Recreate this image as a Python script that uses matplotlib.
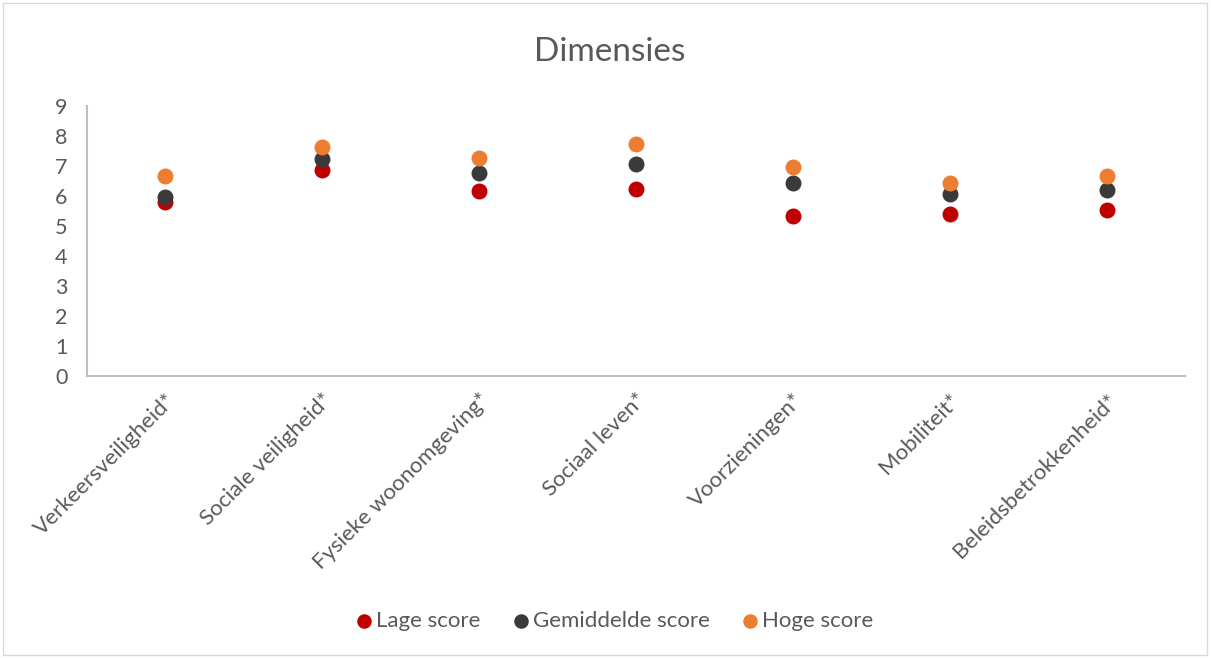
import matplotlib.pyplot as plt
from matplotlib.patches import Rectangle

plt.rcParams['font.family'] = ['Lato', 'DejaVu Sans']

categories = ['Verkeersveiligheid*', 'Sociale veiligheid*', 'Fysieke woonomgeving*',
              'Sociaal leven*', 'Voorzieningen*', 'Mobiliteit*', 'Beleidsbetrokkenheid*']
lage = [5.8, 6.87, 6.16, 6.25, 5.35, 5.39, 5.52]
gemiddeld = [5.96, 7.22, 6.76, 7.06, 6.42, 6.07, 6.21]
hoge = [6.67, 7.65, 7.26, 7.74, 6.97, 6.43, 6.67]

grey = '#595959'
W, H = 1211, 660
fig = plt.figure(figsize=(W / 100, H / 100), dpi=100)
ax = fig.add_axes([87 / W, 1 - 376 / H, (1185 - 87) / W, (376 - 106) / H])

x = range(len(categories))
ax.scatter(x, lage, s=110, color='#C00000', label='Lage score', zorder=3)
ax.scatter(x, gemiddeld, s=110, color='#3A3A3A', label='Gemiddelde score', zorder=3)
ax.scatter(x, hoge, s=110, color='#ED7D31', label='Hoge score', zorder=3)

ax.set_xlim(-0.5, len(categories) - 0.5)
ax.set_ylim(0, 9)
ax.set_yticks(range(10))
ax.set_xticks(list(x))
ax.set_xticklabels(categories, rotation=45, ha='right', rotation_mode='anchor')
ax.tick_params(length=0, labelcolor=grey)
ax.tick_params(axis='y', pad=14, labelsize=15.5)
ax.tick_params(axis='x', pad=10, labelsize=16)
for s in ['top', 'right']:
    ax.spines[s].set_visible(False)
for s in ['left', 'bottom']:
    ax.spines[s].set_color('#BFBFBF')
    ax.spines[s].set_linewidth(1.5)

fig.text(610 / W, 1 - 52 / H, 'Dimensies', ha='center', va='center',
         fontsize=24, color=grey)

fig.legend(loc='center', bbox_to_anchor=(613 / W, 1 - 621 / H), ncol=3,
           frameon=False, fontsize=16, labelcolor=grey, handletextpad=0.05,
           handlelength=1.0, columnspacing=1.3, scatterpoints=1, markerscale=0.9)

fig.patches.append(Rectangle((3 / W, 5 / H), 1204 / W, 652 / H, transform=fig.transFigure,
                             fill=False, edgecolor='#D9D9D9', linewidth=1))

fig.savefig('out.png', dpi=100)
